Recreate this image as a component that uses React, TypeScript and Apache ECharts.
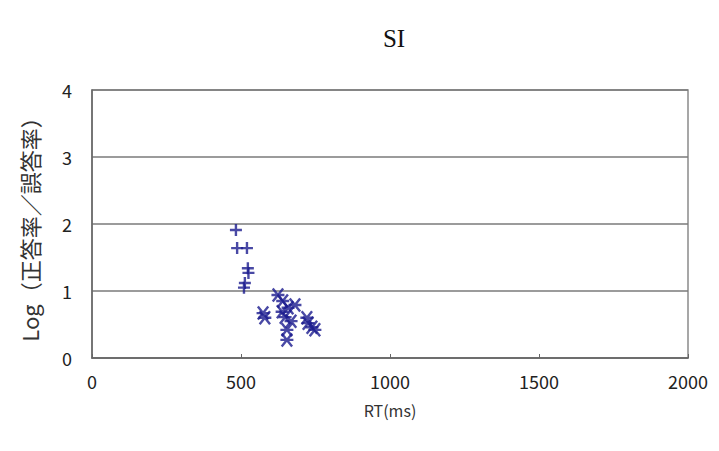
import React, { useEffect, useRef } from "react";
import * as echarts from "echarts";

const titleText = "SI";
const xAxisName = "RT(ms)";
const yAxisName = "Log（正答率／誤答率）";

const plusRT = [483, 487, 520, 523, 525, 513, 510];
const plusLog = [1.91, 1.64, 1.64, 1.34, 1.27, 1.12, 1.05];

const starRT = [624, 574, 580, 638, 658, 681, 648, 654, 654, 721, 738, 748, 725, 640, 668];
const starLog = [0.94, 0.67, 0.6, 0.69, 0.75, 0.79, 0.61, 0.42, 0.27, 0.6, 0.46, 0.42, 0.52, 0.85, 0.55];

const plusPath = "path://M0,5 L10,5 M5,0 L5,10";
const starPath = "path://M1,1 L9,9 M9,1 L1,9 M0,5 L10,5";

export default function App() {
  const ref = useRef<HTMLDivElement>(null);
  useEffect(() => {
    const chart = echarts.init(ref.current!, null, { renderer: "svg" });
    const font = "'Noto Sans CJK JP', 'Liberation Sans', sans-serif";
    chart.setOption({
      animation: false,
      backgroundColor: "#ffffff",
      title: {
        text: titleText,
        left: 389,
        top: 21,
        textAlign: "center",
        textStyle: { fontFamily: "'Liberation Serif', serif", fontSize: 25, fontWeight: "normal", color: "#111" },
      },
      grid: {
        left: 92,
        right: 31,
        top: 90,
        bottom: 93,
        show: true,
        borderColor: "#8a8a8a",
        borderWidth: 1.5,
        backgroundColor: "#ffffff",
      },
      xAxis: {
        type: "value",
        min: 0,
        max: 2000,
        interval: 500,
        name: xAxisName,
        nameLocation: "middle",
        nameGap: 44,
        nameTextStyle: { fontFamily: font, fontSize: 16, color: "#333" },
        axisLine: { show: true, lineStyle: { color: "#666", width: 1.5 } },
        axisTick: { show: true, inside: true, length: 4, lineStyle: { color: "#666" } },
        axisLabel: { fontFamily: font, fontSize: 18, color: "#222", margin: 14, formatter: (v: number) => String(v) },
        splitLine: { show: false },
      },
      yAxis: {
        type: "value",
        min: 0,
        max: 4,
        interval: 1,
        name: yAxisName,
        nameLocation: "middle",
        nameGap: 52,
        nameRotate: 90,
        nameTextStyle: { fontFamily: font, fontSize: 22, color: "#333" },
        axisLine: { show: true, lineStyle: { color: "#666", width: 1.5 } },
        axisTick: { show: false },
        axisLabel: { fontFamily: font, fontSize: 18, color: "#222", margin: 20 },
        splitLine: { show: true, lineStyle: { color: "#7a7a7a", width: 1.5 } },
      },
      series: [
        {
          type: "scatter",
          data: plusRT.map((x, i) => [x, plusLog[i]]),
          symbol: plusPath,
          symbolSize: 12,
          itemStyle: { color: "transparent", borderColor: "#1c1c8e", borderWidth: 2.4 },
        },
        {
          type: "scatter",
          data: starRT.map((x, i) => [x, starLog[i]]),
          symbol: starPath,
          symbolSize: 13,
          itemStyle: { color: "transparent", borderColor: "#1c1c8e", borderWidth: 2.4 },
        },
      ],
    });
    return () => chart.dispose();
  }, []);
  return <div ref={ref} style={{ width: 719, height: 451, position: "absolute", left: 0, top: 0 }} />;
}
